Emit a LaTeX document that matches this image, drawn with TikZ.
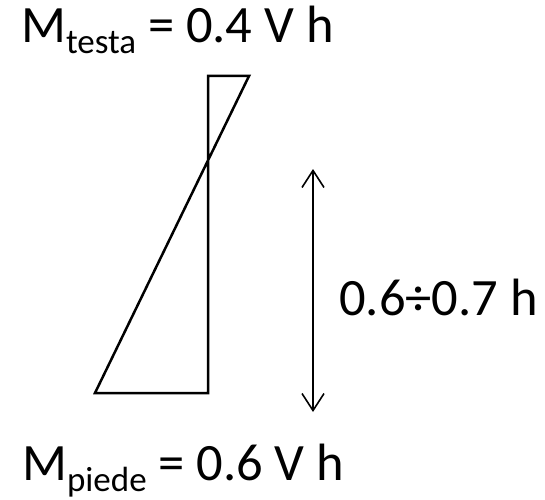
\documentclass[tikz,border=0pt]{standalone}
\usepackage{fontspec}
\setmainfont{Carlito}
\usetikzlibrary{arrows.meta}
\newcommand{\mainsz}{\fontsize{52.5}{60}\selectfont}
\newcommand{\subtxt}[1]{\raisebox{-11pt}{\fontsize{35}{40}\selectfont #1}}
\begin{document}
\begin{tikzpicture}[x=1pt,y=1pt,
  diag/.style={line width=2.5pt, line join=miter},
  dimarrow/.style={line width=1.6pt, {Straight Barb[length=17pt,width=22pt,line width=1.6pt]}-{Straight Barb[length=17pt,width=22pt,line width=1.6pt]}},
  lbl/.style={anchor=base west, inner sep=0pt, font=\mainsz}]
\useasboundingbox (0,0) rectangle (545,499);
\coordinate (A) at (95,106);
\coordinate (B) at (208,106);
\coordinate (C) at (208,423);
\coordinate (D) at (249,423);
\draw[diag] (A) -- (B) -- (C) -- (D) -- cycle;
\coordinate (T) at (313,330);
\coordinate (U) at (313,87);
\draw[dimarrow] (T) -- (U);
\node[lbl] (top) at (21,456) {M\subtxt{testa} = 0.4 V h};
\node[lbl] (bot) at (22,19) {M\subtxt{piede} = 0.6 V h};
\node[lbl] (dim) at (339,184) {0.6÷0.7 h};
\end{tikzpicture}
\end{document}
